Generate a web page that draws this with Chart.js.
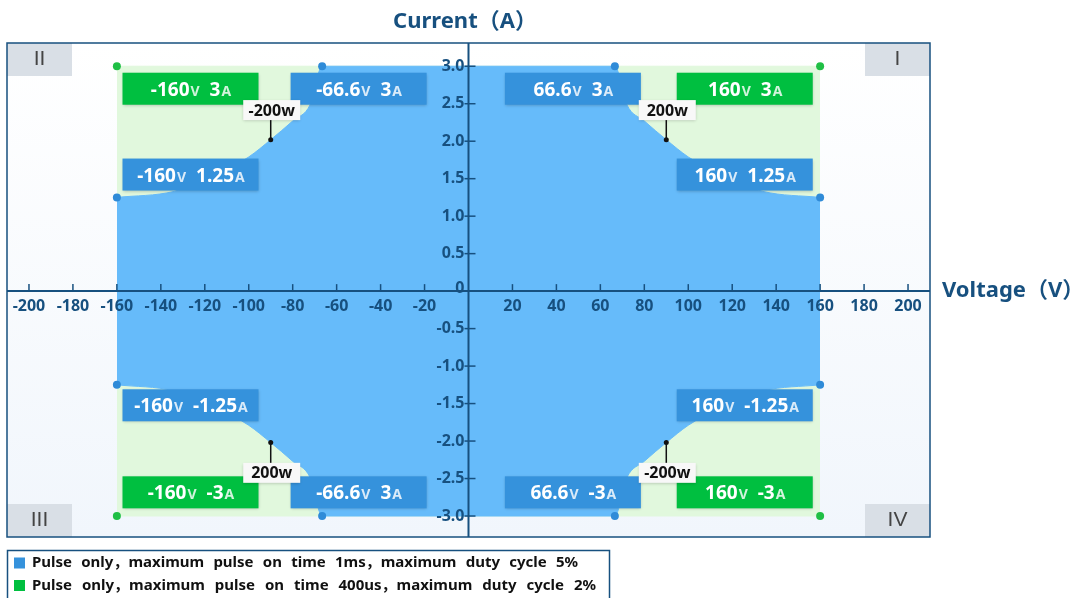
<!DOCTYPE html>
<html>
<head>
<meta charset="utf-8">
<script src="https://cdn.jsdelivr.net/npm/chart.js@4"></script>
<style>
  body { margin: 0; background: #fff; }
</style>
</head>
<body>
<canvas id="chart" width="1085" height="598"></canvas>
<script>
// Envelope data (quadrant I, mirrored to the others)
const curveV = [66.6, 72, 80, 90, 100, 117, 134, 160];
const curveI = [3, 2.49, 2.27, 2.02, 1.79, 1.52, 1.33, 1.25];
const greenV = [-160, 160];
const greenI = [3, 3];
const blueDotV = [-160, -66.6, 66.6, 160, -160, -66.6, 66.6, 160];
const blueDotI = [1.25, 3, 3, 1.25, -1.25, -3, -3, -1.25];
const greenDotV = [-160, 160, -160, 160];
const greenDotI = [3, 3, -3, -3];
const powerV = [-90, 90, -90, 90];
const powerI = [2.02, 2.02, -2.02, -2.02];
const powerText = ['-200w', '200w', '200w', '-200w'];
const xTicks = [-200, -180, -160, -140, -120, -100, -80, -60, -40, -20, 20, 40, 60, 80, 100, 120, 140, 160, 180, 200];
const yTicks = [3, 2.5, 2, 1.5, 1, 0.5, 0, -0.5, -1, -1.5, -2, -2.5, -3];
const quadrants = ['I', 'II', 'III', 'IV'];
const legendText = [
  'Pulse only，maximum pulse on time 1ms，maximum duty cycle 5%',
  'Pulse only，maximum pulse on time 400us，maximum duty cycle 2%'
];

const BLUE_FILL = '#66bbfa';
const GREEN_FILL = '#e1f8dd';
const BLUE_BOX = '#3592dc';
const GREEN_BOX = '#00bf40';
const NAVY = '#17507f';
const FONT = '"Noto Sans", "Noto Sans CJK SC", sans-serif';

// build the filled outlines
const topCurve = curveV.map((v, i) => ({ x: -v, y: curveI[i] })).reverse()
  .concat(curveV.map((v, i) => ({ x: v, y: curveI[i] })));
const bottomCurve = topCurve.map(p => ({ x: p.x, y: -p.y }));
const greenTop = greenV.map((v, i) => ({ x: v, y: greenI[i] }));
const greenBottom = greenV.map((v, i) => ({ x: v, y: -greenI[i] }));

// value labels (placement in data units)
const notes = [
  { v: '-160', a: '3', cx: -126.5, cy: 2.70, c: GREEN_BOX },
  { v: '-66.6', a: '3', cx: -50, cy: 2.70, c: BLUE_BOX },
  { v: '-160', a: '1.25', cx: -126.5, cy: 1.555, c: BLUE_BOX },
  { v: '66.6', a: '3', cx: 47.5, cy: 2.70, c: BLUE_BOX },
  { v: '160', a: '3', cx: 125.7, cy: 2.70, c: GREEN_BOX },
  { v: '160', a: '1.25', cx: 125.7, cy: 1.555, c: BLUE_BOX },
  { v: '-160', a: '-1.25', cx: -126.5, cy: -1.523, c: BLUE_BOX },
  { v: '-160', a: '-3', cx: -126.5, cy: -2.684, c: GREEN_BOX },
  { v: '-66.6', a: '3', cx: -50, cy: -2.684, c: BLUE_BOX },
  { v: '160', a: '-1.25', cx: 125.7, cy: -1.523, c: BLUE_BOX },
  { v: '66.6', a: '-3', cx: 47.5, cy: -2.684, c: BLUE_BOX },
  { v: '160', a: '-3', cx: 125.7, cy: -2.684, c: GREEN_BOX }
];
const powerBoxY = [2.415, 2.415, -2.424, -2.424];

function shadowOn(ctx) {
  ctx.shadowColor = 'rgba(0,0,0,0.22)';
  ctx.shadowBlur = 3;
  ctx.shadowOffsetY = 1;
}
function shadowOff(ctx) {
  ctx.shadowColor = 'transparent';
  ctx.shadowBlur = 0;
  ctx.shadowOffsetY = 0;
}

function drawJustified(ctx, text, x, y, width) {
  const words = text.split(' ');
  let total = 0;
  words.forEach(w => total += ctx.measureText(w).width);
  const gap = (width - total) / (words.length - 1);
  let cx = x;
  words.forEach(w => {
    ctx.fillText(w, cx, y);
    cx += ctx.measureText(w).width + gap;
  });
}

const decor = {
  id: 'decor',
  beforeDatasetsDraw(chart) {
    const { ctx, chartArea: a } = chart;
    ctx.save();
    const g = ctx.createLinearGradient(0, a.top, 0, a.bottom);
    g.addColorStop(0, '#ffffff');
    g.addColorStop(1, '#f1f6fc');
    ctx.fillStyle = g;
    ctx.fillRect(a.left, a.top, a.right - a.left, a.bottom - a.top);
    ctx.restore();
  },
  afterDatasetDraw(chart, args) {
    if (chart.data.datasets[args.index].id !== 'blueTop') return;
    const { ctx, chartArea: a } = chart;
    const xs = chart.scales.x, ys = chart.scales.y;
    const x0 = xs.getPixelForValue(0), y0 = ys.getPixelForValue(0);
    ctx.save();
    // axes
    ctx.strokeStyle = NAVY;
    ctx.lineWidth = 2;
    ctx.beginPath();
    ctx.moveTo(a.left, y0); ctx.lineTo(a.right, y0);
    ctx.moveTo(x0, a.top); ctx.lineTo(x0, a.bottom);
    ctx.stroke();
    ctx.lineWidth = 1.5;
    ctx.fillStyle = NAVY;
    ctx.font = 'bold 16px ' + FONT;
    ctx.textAlign = 'center';
    ctx.textBaseline = 'middle';
    xTicks.forEach(t => {
      const x = xs.getPixelForValue(t);
      ctx.beginPath();
      ctx.moveTo(x, y0 - 7); ctx.lineTo(x, y0);
      ctx.stroke();
      ctx.fillText(String(t), x, y0 + 15);
    });
    ctx.textAlign = 'right';
    yTicks.forEach(t => {
      const y = ys.getPixelForValue(t);
      if (t !== 0) {
        ctx.beginPath();
        ctx.moveTo(x0 - 4, y); ctx.lineTo(x0 + 7, y);
        ctx.stroke();
      }
      ctx.fillText(t === 0 ? '0' : t.toFixed(1), x0 - 4, t === 0 ? y - 3 : y);
    });

    // value boxes
    notes.forEach(n => {
      const cx = xs.getPixelForValue(n.cx), cy = ys.getPixelForValue(n.cy);
      const w = 136, h = 32;
      shadowOn(ctx);
      ctx.fillStyle = n.c;
      ctx.fillRect(cx - w / 2, cy - h / 2, w, h);
      shadowOff(ctx);
      const big = 'bold 19px ' + FONT, small = 'bold 14px ' + FONT;
      ctx.font = big; const w1 = ctx.measureText(n.v).width, w3 = ctx.measureText(n.a).width;
      ctx.font = small; const w2 = ctx.measureText('V').width, w4 = ctx.measureText('A').width;
      const gap = 11;
      let x = cx - (w1 + w2 + gap + w3 + w4) / 2;
      ctx.textAlign = 'left';
      ctx.textBaseline = 'alphabetic';
      const base = cy + 7;
      ctx.fillStyle = '#ffffff';
      ctx.font = big; ctx.fillText(n.v, x, base); x += w1;
      ctx.fillStyle = 'rgba(255,255,255,0.82)';
      ctx.font = small; ctx.fillText('V', x + 1, base); x += w2 + gap;
      ctx.fillStyle = '#ffffff';
      ctx.font = big; ctx.fillText(n.a, x, base); x += w3;
      ctx.fillStyle = 'rgba(255,255,255,0.82)';
      ctx.font = small; ctx.fillText('A', x + 1, base);
    });

    // power labels with leader lines
    powerV.forEach((v, i) => {
      const dx = xs.getPixelForValue(v), dy = ys.getPixelForValue(powerI[i]);
      const by = ys.getPixelForValue(powerBoxY[i]);
      const bx = dx + 1;
      const w = 57, h = 20;
      ctx.strokeStyle = '#111';
      ctx.lineWidth = 1.5;
      ctx.beginPath();
      ctx.moveTo(dx, dy); ctx.lineTo(dx, by);
      ctx.stroke();
      shadowOn(ctx);
      ctx.fillStyle = '#f8f8f8';
      ctx.fillRect(bx - w / 2, by - h / 2, w, h);
      shadowOff(ctx);
      ctx.fillStyle = '#111';
      ctx.font = 'bold 16px ' + FONT;
      ctx.textAlign = 'center';
      ctx.textBaseline = 'middle';
      ctx.fillText(powerText[i], bx, by + 1);
    });
    ctx.restore();
  },
  afterDraw(chart) {
    const { ctx, chartArea: a } = chart;
    ctx.save();
    // quadrant tags
    const qw = 65, qh = 33;
    const spots = [[a.right - qw, a.top], [a.left, a.top], [a.left, a.bottom - qh], [a.right - qw, a.bottom - qh]];
    quadrants.forEach((q, i) => {
      ctx.fillStyle = '#d9dfe6';
      ctx.fillRect(spots[i][0], spots[i][1], qw, qh);
      ctx.fillStyle = '#444';
      ctx.font = '21px "Liberation Sans", "DejaVu Sans", sans-serif';
      ctx.textAlign = 'center';
      ctx.textBaseline = 'middle';
      ctx.fillText(q, spots[i][0] + qw / 2, spots[i][1] + qh / 2);
    });
    // frame
    ctx.strokeStyle = NAVY;
    ctx.lineWidth = 1.5;
    ctx.strokeRect(a.left, a.top, a.right - a.left, a.bottom - a.top);

    // axis titles
    ctx.fillStyle = NAVY;
    ctx.font = 'bold 22px ' + FONT;
    ctx.textAlign = 'center';
    ctx.textBaseline = 'middle';
    ctx.fillText('Current（A）', 465, 22);
    ctx.textAlign = 'left';
    ctx.fillText('Voltage（V）', 942, chart.scales.y.getPixelForValue(0));

    // legend
    ctx.strokeRect(7.5, 550.5, 602, 60);
    const cols = [BLUE_BOX, GREEN_BOX];
    ctx.font = 'bold 15px ' + FONT;
    ctx.textBaseline = 'middle';
    legendText.forEach((t, i) => {
      const y = 563 + i * 22.5;
      ctx.fillStyle = cols[i];
      ctx.fillRect(14, y - 5.5, 11, 11);
      ctx.fillStyle = '#111';
      drawJustified(ctx, t, 32, y, i === 0 ? 546 : 564);
    });
    ctx.restore();
  }
};

new Chart(document.getElementById('chart').getContext('2d'), {
  type: 'scatter',
  data: {
    datasets: [
      { id: 'greenDots', data: greenDotV.map((v, i) => ({ x: v, y: greenDotI[i] })), pointRadius: 4, pointBackgroundColor: '#1fbf45', pointBorderWidth: 0, order: 0 },
      { id: 'blueDots', data: blueDotV.map((v, i) => ({ x: v, y: blueDotI[i] })), pointRadius: 4, pointBackgroundColor: '#2f8bd8', pointBorderWidth: 0, order: 0 },
      { id: 'powerDots', data: powerV.map((v, i) => ({ x: v, y: powerI[i] })), pointRadius: 2.5, pointBackgroundColor: '#111', pointBorderWidth: 0, order: 0 },
      { id: 'blueTop', data: topCurve, showLine: true, fill: 'origin', backgroundColor: BLUE_FILL, borderColor: BLUE_FILL, borderWidth: 1, pointRadius: 0, cubicInterpolationMode: 'monotone', order: 1 },
      { id: 'blueBottom', data: bottomCurve, showLine: true, fill: 'origin', backgroundColor: BLUE_FILL, borderColor: BLUE_FILL, borderWidth: 1, pointRadius: 0, cubicInterpolationMode: 'monotone', order: 2 },
      { id: 'greenTop', data: greenTop, showLine: true, fill: 'origin', backgroundColor: GREEN_FILL, borderColor: GREEN_FILL, borderWidth: 1, pointRadius: 0, order: 3 },
      { id: 'greenBottom', data: greenBottom, showLine: true, fill: 'origin', backgroundColor: GREEN_FILL, borderColor: GREEN_FILL, borderWidth: 1, pointRadius: 0, order: 4 }
    ]
  },
  options: {
    responsive: false,
    animation: false,
    layout: { padding: { left: 7, right: 155, top: 43, bottom: 61 } },
    scales: {
      x: { type: 'linear', min: -210, max: 210, display: false },
      y: { type: 'linear', min: -3.28, max: 3.31, display: false }
    },
    plugins: {
      legend: { display: false },
      tooltip: { enabled: false }
    }
  },
  plugins: [decor]
});
</script>
</body>
</html>
